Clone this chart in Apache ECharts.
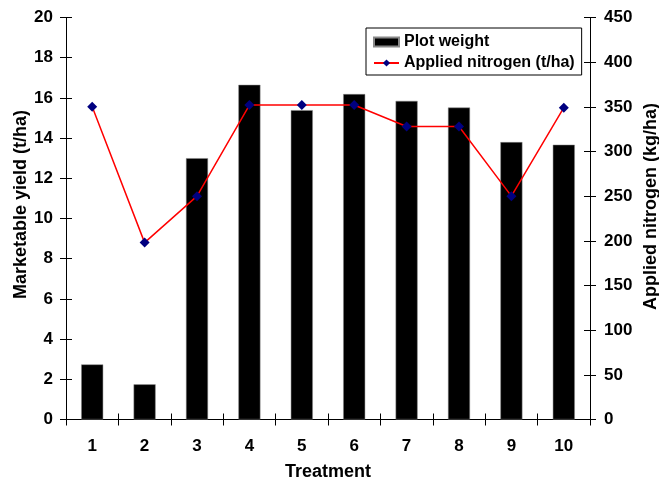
<!DOCTYPE html>
<html>
<head>
<meta charset="utf-8">
<script src="https://cdn.jsdelivr.net/npm/echarts@6/dist/echarts.min.js"></script>
<style>
html,body{margin:0;padding:0;background:#fff;}
#c{width:659px;height:486px;}
</style>
</head>
<body>
<div id="c"></div>
<script>
const categories = ['1','2','3','4','5','6','7','8','9','10'];
const plotWeight = [2.74, 1.75, 13.0, 16.65, 15.39, 16.19, 15.85, 15.52, 13.8, 13.67];
const appliedNitrogen = [350, 198, 250, 352, 352, 352, 328, 328, 250, 349];
const yieldTicks = {min: 0, max: 20, interval: 2};
const nitrogenTicks = {min: 0, max: 450, interval: 50};

const FONT = 'Liberation Sans, Arial, sans-serif';
const lbl = {color: '#000', fontFamily: FONT, fontWeight: 'bold', fontSize: 17};
function axLine() { return {show: true, lineStyle: {color: '#000', width: 1}}; }
function tickOnly() {
  return {show: true, offset: -6,
    axisLine: {show: false, onZero: false},
    axisTick: {show: true, inside: false, length: 12, lineStyle: {color: '#000', width: 1}},
    axisLabel: {show: false}, splitLine: {show: false}};
}

const chart = echarts.init(document.getElementById('c'), null, {renderer: 'canvas'});
chart.setOption({
  animation: false,
  backgroundColor: '#fff',
  grid: {left: 66, right: 69, top: 17.5, bottom: 66.5, containLabel: false, outerBoundsMode: 'none'},
  legend: {
    orient: 'vertical',
    left: 366, top: 28,
    padding: [6, 7, 4, 7],
    itemGap: 5,
    itemWidth: 25, itemHeight: 9,
    borderColor: '#000', borderWidth: 1,
    backgroundColor: '#fff',
    textStyle: {color: '#000', fontFamily: FONT, fontWeight: 'bold', fontSize: 16},
    data: [{name: 'Plot weight', icon: 'rect'}, {name: 'Applied nitrogen (t/ha)'}]
  },
  xAxis: [
    {
      type: 'category', data: categories, position: 'bottom',
      axisLine: axLine(),
      axisTick: {show: false},
      axisLabel: Object.assign({margin: 18}, lbl),
      name: 'Treatment', nameLocation: 'middle', nameGap: 44,
      nameTextStyle: Object.assign({}, lbl, {fontSize: 18}),
      splitLine: {show: false}
    },
    Object.assign({type: 'category', data: categories, position: 'bottom'}, tickOnly())
  ],
  yAxis: [
    Object.assign({
      type: 'value', position: 'left',
      axisLine: axLine(),
      axisTick: {show: false},
      axisLabel: Object.assign({margin: 13}, lbl),
      splitLine: {show: false},
      name: 'Marketable yield (t/ha)', nameLocation: 'middle', nameRotate: 90, nameGap: 36,
      nameMoveOverlap: false,
      nameTextStyle: Object.assign({}, lbl, {fontSize: 18, padding: [0, 0, 0, 28]})
    }, yieldTicks),
    Object.assign({
      type: 'value', position: 'right',
      axisLine: axLine(),
      axisTick: {show: false},
      axisLabel: Object.assign({margin: 14}, lbl),
      splitLine: {show: false},
      name: 'Applied nitrogen (kg/ha)', nameLocation: 'middle', nameRotate: 90, nameGap: 52,
      nameMoveOverlap: false,
      nameTextStyle: Object.assign({}, lbl, {fontSize: 18, padding: [0, 0, 0, 24]})
    }, nitrogenTicks),
    Object.assign({type: 'value', position: 'left'}, yieldTicks, tickOnly()),
    Object.assign({type: 'value', position: 'right'}, nitrogenTicks, tickOnly())
  ],
  series: [
    {
      name: 'Plot weight', type: 'bar', xAxisIndex: 0, yAxisIndex: 0,
      data: plotWeight, barWidth: 22,
      itemStyle: {color: '#000', borderColor: '#888', borderWidth: 0.5}
    },
    {
      name: 'Applied nitrogen (t/ha)', type: 'line', xAxisIndex: 0, yAxisIndex: 1,
      data: appliedNitrogen,
      lineStyle: {color: '#ff0000', width: 1.5},
      itemStyle: {color: '#000080'},
      symbol: 'diamond', symbolSize: 10, showSymbol: true
    }
  ]
});
</script>
</body>
</html>
